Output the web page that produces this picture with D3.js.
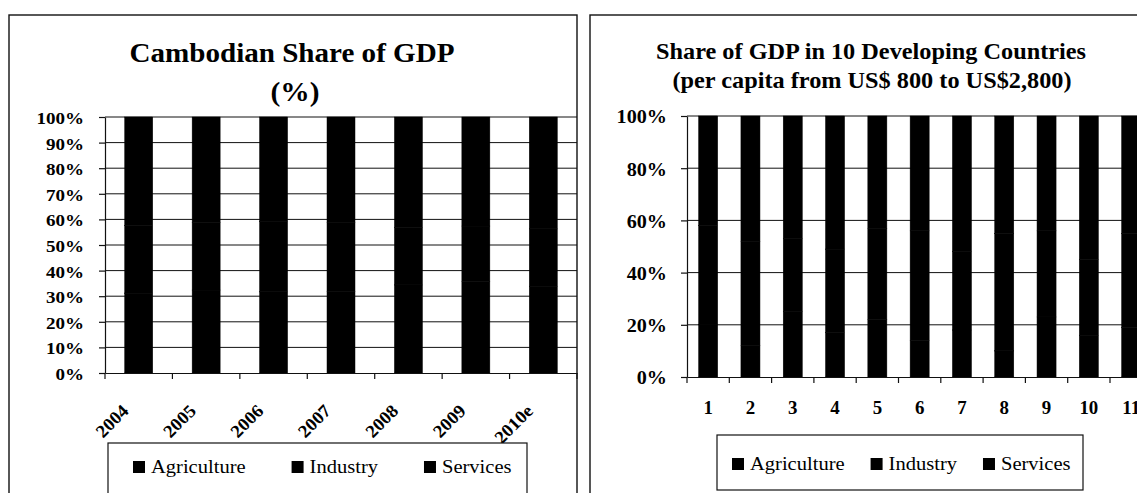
<!DOCTYPE html>
<html>
<head>
<meta charset="utf-8">
<script src="https://cdn.jsdelivr.net/npm/d3@7"></script>
<style>
  body { margin: 0; background: #fff; }
  svg { display: block; font-family: "Liberation Serif", "Times New Roman", serif; }
</style>
</head>
<body>
<div id="chart"></div>
<script>
(function() {

    // series shown in both charts (all printed in black in the original)
    const series = ["Agriculture", "Industry", "Services"];

    // Cambodia, share of GDP by sector (%), estimated
    const years = ["2004", "2005", "2006", "2007", "2008", "2009", "2010e"];
    const khAgriculture = [31.2, 32.4, 31.7, 31.9, 34.4, 35.7, 33.9];
    const khIndustry    = [26.4, 26.4, 27.6, 26.8, 22.4, 21.7, 22.4];
    const khServices    = [42.4, 41.2, 40.7, 41.3, 43.2, 42.6, 43.7];

    // 10 developing countries (per capita US$800 - US$2,800), estimated
    const countries = ["1", "2", "3", "4", "5", "6", "7", "8", "9", "10", "11"];
    const dvAgriculture = [20, 12, 25, 17, 22, 14, 18, 10, 23, 16, 19];
    const dvIndustry    = [38, 40, 28, 32, 35, 42, 30, 45, 33, 29, 36];
    const dvServices    = [42, 48, 47, 51, 43, 44, 52, 45, 44, 55, 45];

    const leftTicks = [0, 0.1, 0.2, 0.3, 0.4, 0.5, 0.6, 0.7, 0.8, 0.9, 1];
    const rightTicks = [0, 0.2, 0.4, 0.6, 0.8, 1];

    const width = 1137;
    const height = 493;
    const font = "\"Liberation Serif\", \"Times New Roman\", serif";

    const svg = d3.select("#chart").append("svg")
        .attr("width", width)
        .attr("height", height);

    const color = d3.scaleOrdinal().domain(series).range(["#000", "#000", "#000"]);

    // the scan is a bit wider than the fonts, so stretch text a little
    function stretch(sel, k) {
        sel.each(function() {
            const w = this.getComputedTextLength();
            this.setAttribute("textLength", w * k);
            this.setAttribute("lengthAdjust", "spacingAndGlyphs");
        });
    }

    function rowsOf(cats, a, b, c) {
        return cats.map((cat, i) => ({cat: cat, Agriculture: a[i], Industry: b[i], Services: c[i]}));
    }

    function panel(cfg) {
        const g = svg.append("g");

        // frame
        g.append("rect")
            .attr("x", cfg.frame[0]).attr("y", cfg.frame[1])
            .attr("width", cfg.frame[2]).attr("height", cfg.frame[3])
            .attr("fill", "none").attr("stroke", "#111").attr("stroke-width", 1.4);

        const x = d3.scaleBand()
            .domain(cfg.cats)
            .range([cfg.x0, cfg.x1])
            .paddingInner(cfg.pad)
            .paddingOuter(cfg.pad / 2);

        const y = d3.scaleLinear()
            .domain([0, 1])
            .range([cfg.yBottom, cfg.yTop]);

        // gridlines
        g.append("g")
            .selectAll("line")
            .data(cfg.ticks.filter(t => t > 0))
            .join("line")
            .attr("x1", cfg.x0).attr("x2", cfg.x1)
            .attr("y1", d => y(d)).attr("y2", d => y(d))
            .attr("stroke", "#111").attr("stroke-width", 1);

        // stacked 100% bars
        const stacked = d3.stack().keys(series).offset(d3.stackOffsetExpand)(cfg.rows);
        g.append("g")
            .selectAll("g")
            .data(stacked)
            .join("g")
            .attr("fill", d => color(d.key))
            .attr("stroke", d => color(d.key))
            .attr("stroke-width", 0.5)
            .selectAll("rect")
            .data(d => d)
            .join("rect")
            .attr("x", d => x(d.data.cat))
            .attr("y", d => y(d[1]))
            .attr("height", d => y(d[0]) - y(d[1]))
            .attr("width", x.bandwidth());

        // y axis
        const yAxis = g.append("g")
            .attr("transform", `translate(${cfg.x0},0)`)
            .call(d3.axisLeft(y).tickValues(cfg.ticks).tickSize(6).tickSizeOuter(0)
                .tickPadding(cfg.yPad).tickFormat(d3.format(".0%")));
        yAxis.selectAll("path, line").attr("stroke", "#111").attr("stroke-width", 1.2);
        yAxis.selectAll("text")
            .attr("fill", "#000")
            .attr("font-family", font)
            .attr("font-weight", "bold")
            .attr("font-size", cfg.yFont + "px")
            .attr("dy", "0.38em");
        stretch(yAxis.selectAll("text"), cfg.yStretch);

        // x axis (labels at centres, ticks at band edges)
        const xAxis = g.append("g")
            .attr("transform", `translate(0,${cfg.yBottom})`)
            .call(d3.axisBottom(x).tickSize(0).tickSizeOuter(0));
        xAxis.select(".domain").attr("stroke", "#111").attr("stroke-width", 1.2);
        const edges = cfg.cats.map(c => x(c) - x.step() * x.paddingOuter()).concat([cfg.x1]);
        xAxis.selectAll(".edge")
            .data(edges)
            .join("line")
            .attr("class", "edge")
            .attr("x1", d => d).attr("x2", d => d)
            .attr("y1", 0).attr("y2", 6)
            .attr("stroke", "#111").attr("stroke-width", 1.2);

        const xt = xAxis.selectAll(".tick text")
            .attr("fill", "#000")
            .attr("font-family", font)
            .attr("font-weight", "bold")
            .attr("font-size", cfg.xFont + "px");
        if (cfg.rotate) {
            xt.attr("text-anchor", "end")
                .attr("x", -9).attr("y", 39).attr("dy", 0)
                .attr("transform", "rotate(-45,-9,39)");
        } else {
            xt.attr("y", 37).attr("dy", 0);
        }
        stretch(xt, cfg.xStretch);

        // titles
        g.append("g")
            .selectAll("text")
            .data(cfg.title)
            .join("text")
            .attr("x", d => d.x).attr("y", d => d.y)
            .attr("text-anchor", "middle")
            .attr("font-family", font)
            .attr("font-weight", "bold")
            .attr("font-size", cfg.titleFont + "px")
            .attr("fill", "#000")
            .attr("textLength", d => d.w)
            .attr("lengthAdjust", "spacingAndGlyphs")
            .text(d => d.text);

        // legend
        const lg = g.append("g");
        lg.append("rect")
            .attr("x", cfg.legend[0]).attr("y", cfg.legend[1])
            .attr("width", cfg.legend[2]).attr("height", cfg.legend[3])
            .attr("fill", "#fff").attr("stroke", "#111").attr("stroke-width", 1.2);
        let lx = cfg.legendStart;
        series.forEach(s => {
            lg.append("rect")
                .attr("x", lx).attr("y", cfg.legendBase - 12)
                .attr("width", 12).attr("height", 12)
                .attr("fill", color(s));
            const t = lg.append("text")
                .attr("x", lx + 18).attr("y", cfg.legendBase)
                .attr("font-family", font)
                .attr("font-size", "19px")
                .attr("fill", "#000")
                .text(s);
            stretch(t, 1.08);
            lx += 18 + t.node().textLength.baseVal.value + cfg.legendGap;
        });
    }

    panel({
        frame: [9, 15, 568, 520],
        cats: years,
        rows: rowsOf(years, khAgriculture, khIndustry, khServices),
        x0: 105, x1: 577, pad: 0.585,
        yTop: 117, yBottom: 373,
        ticks: leftTicks, yPad: 15, yFont: 17, yStretch: 1.12,
        xFont: 18, xStretch: 1.05, rotate: true,
        titleFont: 27,
        title: [
            {text: "Cambodian Share of GDP", x: 292, y: 62, w: 325},
            {text: "(%)", x: 295, y: 101, w: 49}
        ],
        legend: [108, 443, 419, 60],
        legendStart: 133, legendBase: 473, legendGap: 46
    });

    panel({
        frame: [590, 15, 600, 520],
        cats: countries,
        rows: rowsOf(countries, dvAgriculture, dvIndustry, dvServices),
        x0: 687, x1: 687 + 11 * 42.3, pad: 0.55,
        yTop: 116, yBottom: 377,
        ticks: rightTicks, yPad: 14, yFont: 18, yStretch: 1.12,
        xFont: 18, xStretch: 1.05, rotate: false,
        titleFont: 24,
        title: [
            {text: "Share of GDP in 10 Developing Countries", x: 871, y: 59, w: 430},
            {text: "(per capita from US$ 800 to US$2,800)", x: 872, y: 88, w: 399}
        ],
        legend: [717, 435, 366, 55],
        legendStart: 732, legendBase: 470, legendGap: 26
    });

})();
</script>
</body>
</html>
